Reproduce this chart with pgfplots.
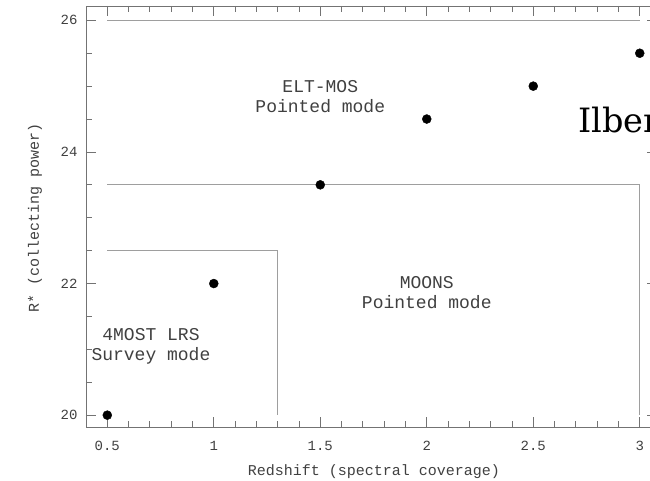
\documentclass[border=0pt]{standalone}
\usepackage{pgfplots}
\pgfplotsset{compat=1.18}
\usepackage{fontspec}
\setmainfont{Liberation Mono}
\newfontfamily\slab{DejaVu Serif}
\definecolor{axgray}{gray}{0.45}
\definecolor{boxgray}{gray}{0.62}
\definecolor{txtgray}{gray}{0.25}
\begin{document}
\begin{tikzpicture}
\begin{axis}[
  name=ax,
  scale only axis, width=571pt, height=421pt,
  xmin=0.4, xmax=3.081, ymin=19.82, ymax=26.218,
  axis line style={-, axgray, line width=0.8pt},
  xtick={0.5,1,1.5,2,2.5,3}, xticklabels={0.5,1,1.5,2,2.5,3},
  ytick={20,22,24,26}, yticklabels={20,22,24,26},
  minor x tick num=4, minor y tick num=3,
  tick align=inside, major tick length=10pt, minor tick length=6pt,
  every tick/.style={axgray, line width=0.8pt},
  /pgf/number format/assume math mode=true,
  tick label style={font=\fontsize{14}{16}\selectfont, text=txtgray},
  xticklabel style={yshift=-11pt},
  yticklabel style={xshift=-5pt},
  label style={font=\fontsize{15}{17}\selectfont, text=txtgray},
  xlabel={Redshift (spectral coverage)},
  ylabel={R* (collecting power)},
  xlabel style={at={(axis description cs:0.504,-0.107)}, anchor=center},
  ylabel style={at={(axis description cs:-0.0893,0.496)}, anchor=center},
  clip=false,
]
\addplot[boxgray, line width=0.8pt] coordinates {(0.5,26) (3,26)};
\addplot[boxgray, line width=0.8pt] coordinates {(0.5,23.5) (3,23.5) (3,20)};
\addplot[boxgray, line width=0.8pt] coordinates {(0.5,22.5) (1.3,22.5) (1.3,20)};
\addplot[only marks, mark=*, mark size=4.5pt, black] coordinates {
 (0.5,20) (1,22) (1.5,23.5) (2,24.5) (2.5,25) (3,25.5)};
\node[align=center, font=\fontsize{18}{20}\selectfont, text=txtgray] at (axis cs:1.5,24.84) {ELT-MOS\\Pointed mode};
\node[align=center, font=\fontsize{18}{20}\selectfont, text=txtgray] at (axis cs:2.0,21.86) {MOONS\\Pointed mode};
\node[align=center, font=\fontsize{18}{20}\selectfont, text=txtgray] at (axis cs:0.705,21.04) {4MOST LRS\\Survey mode};
\node[overlay, anchor=base west, inner sep=0pt, font=\slab\fontsize{33.5}{36}\selectfont] at (axis cs:2.71,24.29) {Ilbert};
\end{axis}
\pgfresetboundingbox
\useasboundingbox ([xshift=-86pt,yshift=-54pt]ax.south west) rectangle ([xshift=564pt,yshift=6pt]ax.north west);
\end{tikzpicture}
\end{document}
